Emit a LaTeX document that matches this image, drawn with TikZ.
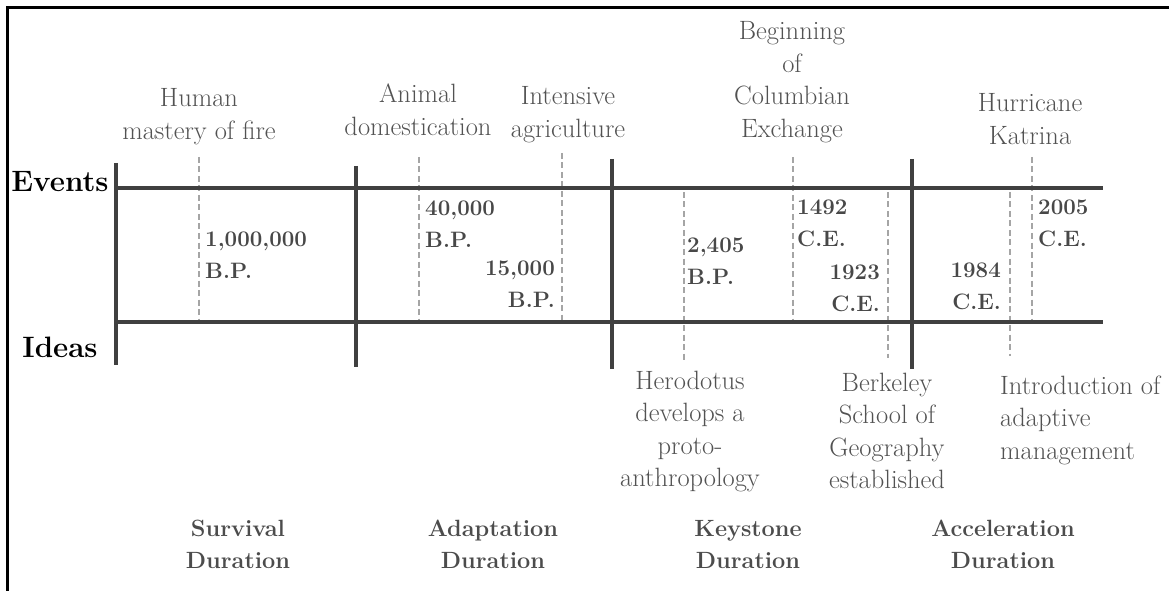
\documentclass[tikz,border=0pt]{standalone}
\usepackage{fontspec}
\definecolor{rulegray}{HTML}{404040}
\definecolor{tickgray}{HTML}{A5A5A5}
\definecolor{labelgray}{HTML}{525252}
\definecolor{dategray}{HTML}{484848}
\definecolor{periodgray}{HTML}{4C4C4C}
% a top-aligned stack of lines: the node's base is the first line's baseline
\newcommand{\tstack}[2][c]{\begin{tabular}[t]{@{}#1@{}}#2\end{tabular}}
\tikzset{
  frameline/.style={line width=3bp, black},
  axisline/.style={line width=3.2bp, rulegray},
  eraline/.style={line width=3.5bp, rulegray},
  dateline/.style={line width=2bp, tickgray, dash pattern=on 6bp off 3.5bp},
  eventlabel/.style={inner sep=0, text=labelgray, font=\fontsize{26.5bp}{32.5bp}\selectfont},
  datelabel/.style={inner sep=0, text=dategray, font=\fontsize{22.3bp}{32bp}\selectfont\bfseries},
  periodlabel/.style={inner sep=0, text=periodgray, font=\fontsize{23.5bp}{32bp}\selectfont\bfseries},
  rowlabel/.style={inner sep=0, text=black, font=\fontsize{29.5bp}{32bp}\selectfont\bfseries},
}
\begin{document}
\begin{tikzpicture}[x=1bp, y=-1bp]
\useasboundingbox (0,0) rectangle (1169,591);

% outer frame (top and left edges)
\coordinate (frameTL) at (7,8);
\coordinate (frameTR) at (1169,8);
\coordinate (frameBL) at (7,591);
\draw[frameline] (frameTR) -- (frameTL) -- (frameBL);

% dated markers
\foreach \name/\x/\ya/\yb in {d1/199/157/322, d2/419/157/322, d3/562/153/322,
    d4/684/192/360, d5/793/157/322, d6/888/192/358, d7/1010/192/356, d8/1032/157/323} {
  \coordinate (\name top) at (\x,\ya);
  \coordinate (\name bot) at (\x,\yb);
  \draw[dateline] (\name top) -- (\name bot);
}

% the two timelines
\coordinate (evL) at (115,188);
\coordinate (evR) at (1103,188);
\coordinate (idL) at (115,322);
\coordinate (idR) at (1103,322);
\draw[axisline] (evL) -- (evR);
\draw[axisline] (idL) -- (idR);

% period boundaries
\foreach \name/\x/\ya/\yb in {v1/116/163/365, v2/356/166/367, v3/612/159/369, v4/912/159/369} {
  \coordinate (\name top) at (\x,\ya);
  \coordinate (\name bot) at (\x,\yb);
  \draw[eraline] (\name top) -- (\name bot);
}

% row labels
\node[rowlabel, anchor=base] (events) at (60,192) {Events};
\node[rowlabel, anchor=base] (ideas) at (60,357) {Ideas};

% events
\node[eventlabel, anchor=base] (fire) at (199,107) {\tstack{Human\\mastery of fire}};
\node[eventlabel, anchor=base] (animal) at (418,103) {\tstack{Animal\\domestication}};
\node[eventlabel, anchor=base] (agri) at (568,105) {\tstack{Intensive\\agriculture}};
\node[eventlabel, anchor=base] (columbian) at (792,40) {\tstack{Beginning\\of\\Columbian\\Exchange}};
\node[eventlabel, anchor=base] (katrina) at (1030,112) {\tstack{Hurricane\\Katrina}};

% ideas
\node[eventlabel, anchor=base] (herodotus) at (690,389) {\tstack{Herodotus\\develops a\\proto-\\anthropology}};
\node[eventlabel, anchor=base] (berkeley) at (887,391) {\tstack{Berkeley\\School of\\Geography\\established}};
\node[eventlabel, anchor=base west] (adaptive) at (1000,394) {\tstack[l]{Introduction of\\adaptive\\management}};

% dates
\node[datelabel, anchor=base west] (date1) at (205,247) {\tstack[l]{1,000,000\\B.P.}};
\node[datelabel, anchor=base west] (date2) at (425,216) {\tstack[l]{40,000\\B.P.}};
\node[datelabel, anchor=base east] (date3) at (555,276) {\tstack[r]{15,000\\B.P.}};
\node[datelabel, anchor=base west] (date4) at (687,253) {\tstack[l]{2,405\\B.P.}};
\node[datelabel, anchor=base west] (date5) at (797,215) {\tstack[l]{1492\\C.E.}};
\node[datelabel, anchor=base east] (date6) at (880,280) {\tstack[r]{1923\\C.E.}};
\node[datelabel, anchor=base east] (date7) at (1001,278) {\tstack[r]{1984\\C.E.}};
\node[datelabel, anchor=base west] (date8) at (1038,215) {\tstack[l]{2005\\C.E.}};

% durations
\node[periodlabel, anchor=base] (survival) at (238,536) {\tstack{Survival\\Duration}};
\node[periodlabel, anchor=base] (adaptation) at (493,536) {\tstack{Adaptation\\Duration}};
\node[periodlabel, anchor=base] (keystone) at (748,536) {\tstack{Keystone\\Duration}};
\node[periodlabel, anchor=base] (acceleration) at (1003,536) {\tstack{Acceleration\\Duration}};
\end{tikzpicture}
\end{document}
